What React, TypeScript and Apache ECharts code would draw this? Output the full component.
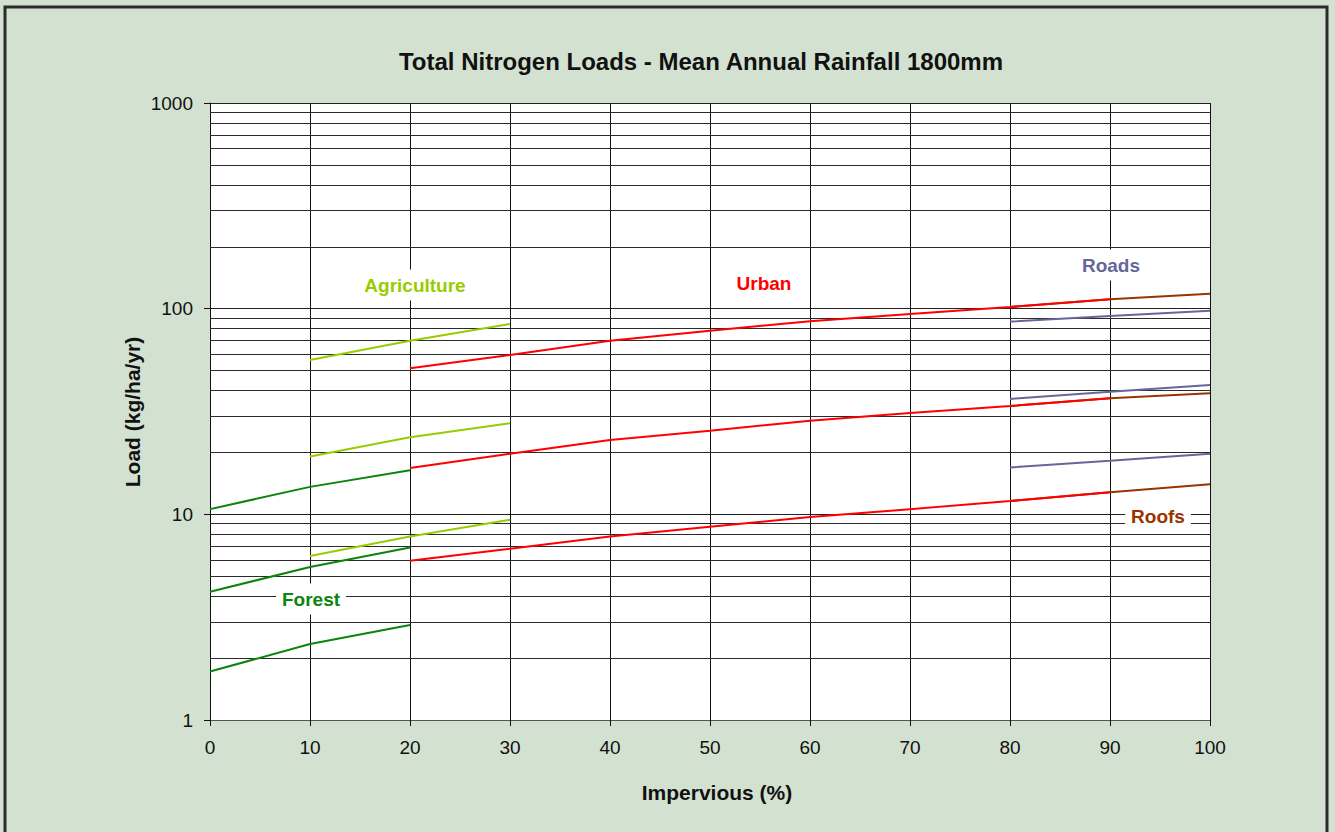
import React, { useEffect, useRef } from "react";
import * as echarts from "echarts";

// Impervious fraction (%) sampled for each land use
const impForest = [0, 10, 20];
const impAgri = [10, 20, 30];
const impUrban = [20, 30, 40, 50, 60, 70, 80, 90];
const impRoofs = [80, 90, 100];
const impRoads = [80, 90, 100];

// Total nitrogen load (kg/ha/yr), three curves per land use
const forestHigh = [10.6, 13.6, 16.4];
const forestMid = [4.2, 5.55, 6.9];
const forestLow = [1.72, 2.34, 2.9];

const agriHigh = [56.3, 69.9, 84.2];
const agriMid = [19.1, 23.7, 27.7];
const agriLow = [6.27, 7.8, 9.4];

const urbanHigh = [51.3, 59.5, 69.9, 78.2, 86.8, 94.2, 101.9, 111];
const urbanMid = [16.8, 19.7, 23.0, 25.5, 28.5, 31.1, 33.6, 36.7];
const urbanLow = [5.95, 6.8, 7.8, 8.7, 9.7, 10.6, 11.6, 12.8];

const roofsHigh = [101.9, 111, 118.2];
const roofsMid = [33.6, 36.7, 38.8];
const roofsLow = [11.6, 12.8, 14.0];

const roadsHigh = [86.5, 92.1, 97.8];
const roadsMid = [36.4, 39.5, 42.5];
const roadsLow = [16.9, 18.2, 19.7];

// Log-scale minor gridlines (2..9 in every decade)
const minorGrid = [
  2, 3, 4, 5, 6, 7, 8, 9,
  20, 30, 40, 50, 60, 70, 80, 90,
  200, 300, 400, 500, 600, 700, 800, 900,
];

const FONT = "'Liberation Sans', Arial, sans-serif";

const COLORS = {
  forest: "#0a850a",
  agri: "#99cc00",
  urban: "#ff0000",
  roofs: "#993300",
  roads: "#666699",
};

function zip(xs: number[], ys: number[]) {
  return xs.map((x, i) => [x, ys[i]]);
}

function lineSeries(name: string, xs: number[], ys: number[], color: string, z: number) {
  return {
    name,
    type: "line",
    data: zip(xs, ys),
    symbol: "none",
    z,
    lineStyle: { color, width: 2 },
  };
}

export default function App() {
  const ref = useRef<HTMLDivElement>(null);

  useEffect(() => {
    if (!ref.current) return;
    const chart = echarts.init(ref.current, null, { renderer: "svg" });

    const label = (text: string, x: number, y: number, color: string) => ({
      type: "text",
      x,
      y,
      z: 50,
      style: {
        text,
        fill: color,
        font: `bold 19px ${FONT}`,
        align: "center",
        verticalAlign: "middle",
        backgroundColor: "#ffffff",
        padding: [6, 6, 6, 6],
      },
    });

    chart.setOption({
      animation: false,
      backgroundColor: "#d3e2d0",
      grid: { left: 210, right: 125, top: 103, bottom: 112, backgroundColor: "#ffffff", show: true, borderWidth: 0 },
      xAxis: {
        type: "value",
        min: 0,
        max: 100,
        interval: 10,
        axisLine: { show: true, lineStyle: { color: "#555", width: 1 } },
        axisTick: { show: true, length: 6, lineStyle: { color: "#111" } },
        axisLabel: { color: "#111", fontSize: 19, fontFamily: FONT, margin: 18 },
        splitLine: { show: true, lineStyle: { color: "#111", width: 1 } },
      },
      yAxis: {
        type: "log",
        logBase: 10,
        min: 1,
        max: 1000,
        axisLine: { show: true, onZero: false, lineStyle: { color: "#111", width: 1 } },
        axisTick: { show: true, length: 6, lineStyle: { color: "#111" } },
        axisLabel: {
          color: "#111",
          fontSize: 19,
          fontFamily: FONT,
          margin: 17,
          formatter: (v: number) => String(Math.round(v)),
        },
        splitLine: { show: true, lineStyle: { color: "#222", width: 1 } },
      },
      series: [
        {
          name: "minor-grid",
          type: "line",
          data: [],
          silent: true,
          z: 1,
          markLine: {
            silent: true,
            symbol: "none",
            label: { show: false },
            lineStyle: { color: "#2a2a2a", width: 1, type: "solid" },
            data: minorGrid.map((v) => ({ yAxis: v })),
          },
        },
        lineSeries("Forest high", impForest, forestHigh, COLORS.forest, 5),
        lineSeries("Forest mid", impForest, forestMid, COLORS.forest, 5),
        lineSeries("Forest low", impForest, forestLow, COLORS.forest, 5),
        lineSeries("Agriculture high", impAgri, agriHigh, COLORS.agri, 5),
        lineSeries("Agriculture mid", impAgri, agriMid, COLORS.agri, 5),
        lineSeries("Agriculture low", impAgri, agriLow, COLORS.agri, 5),
        lineSeries("Roofs high", impRoofs, roofsHigh, COLORS.roofs, 4),
        lineSeries("Roofs mid", impRoofs, roofsMid, COLORS.roofs, 4),
        lineSeries("Roofs low", impRoofs, roofsLow, COLORS.roofs, 4),
        lineSeries("Urban high", impUrban, urbanHigh, COLORS.urban, 6),
        lineSeries("Urban mid", impUrban, urbanMid, COLORS.urban, 6),
        lineSeries("Urban low", impUrban, urbanLow, COLORS.urban, 6),
        lineSeries("Roads high", impRoads, roadsHigh, COLORS.roads, 5),
        lineSeries("Roads mid", impRoads, roadsMid, COLORS.roads, 5),
        lineSeries("Roads low", impRoads, roadsLow, COLORS.roads, 5),
      ],
      graphic: [
        {
          type: "rect",
          shape: { x: 5, y: 7, width: 1322, height: 830 },
          style: { fill: "none", stroke: "#2b2b2b", lineWidth: 3 },
          silent: true,
          z: 100,
        },
        {
          type: "text",
          x: 701,
          y: 61,
          style: {
            text: "Total Nitrogen Loads - Mean Annual Rainfall 1800mm",
            fill: "#111",
            font: `bold 24px ${FONT}`,
            align: "center",
            verticalAlign: "middle",
          },
        },
        {
          type: "text",
          x: 717,
          y: 792,
          style: {
            text: "Impervious (%)",
            fill: "#111",
            font: `bold 21px ${FONT}`,
            align: "center",
            verticalAlign: "middle",
          },
        },
        {
          type: "text",
          x: 132,
          y: 412,
          rotation: Math.PI / 2,
          style: {
            text: "Load (kg/ha/yr)",
            fill: "#111",
            font: `bold 21px ${FONT}`,
            align: "center",
            verticalAlign: "middle",
          },
        },
        label("Agriculture", 415, 285, COLORS.agri),
        label("Urban", 764, 283, COLORS.urban),
        label("Roads", 1111, 265, COLORS.roads),
        label("Roofs", 1158, 516, COLORS.roofs),
        label("Forest", 311, 599, COLORS.forest),
      ],
    });

    return () => chart.dispose();
  }, []);

  return (
    <div
      ref={ref}
      style={{ position: "fixed", left: 0, top: 0, width: 1335, height: 832 }}
    />
  );
}
